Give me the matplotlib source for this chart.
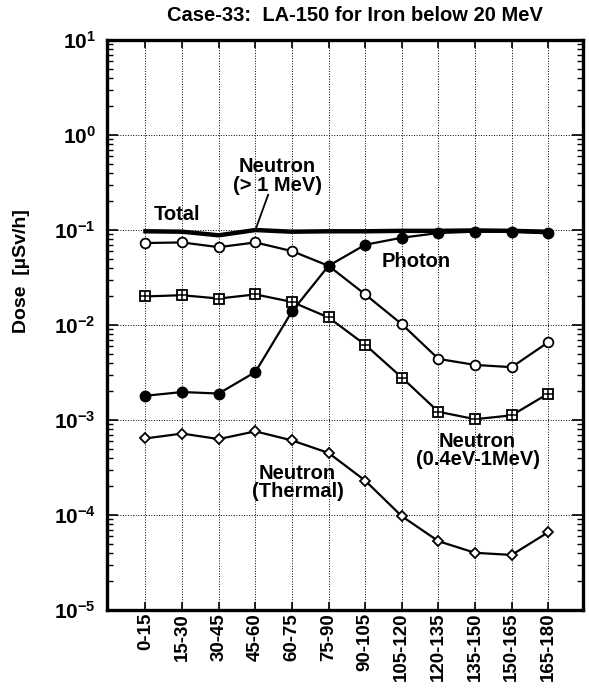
import matplotlib.pyplot as plt
import numpy as np
from matplotlib.ticker import LogLocator, NullFormatter

plt.rcParams['font.family'] = ['Liberation Sans', 'DejaVu Sans']
plt.rcParams['font.weight'] = 'bold'
plt.rcParams['mathtext.default'] = 'bf'

angles = ['0-15', '15-30', '30-45', '45-60', '60-75', '75-90', '90-105',
          '105-120', '120-135', '135-150', '150-165', '165-180']
total = [0.097, 0.096, 0.088, 0.100, 0.096, 0.097, 0.097, 0.098, 0.098,
         0.099, 0.098, 0.096]
neutron_fast = [0.073, 0.074, 0.066, 0.074, 0.060, 0.042, 0.021, 0.0102,
                0.0044, 0.0038, 0.0036, 0.0066]
neutron_mid = [0.020, 0.0206, 0.019, 0.021, 0.0175, 0.012, 0.0062, 0.0028,
               0.00122, 0.00102, 0.00112, 0.0019]
photon = [0.0018, 0.00197, 0.0019, 0.0032, 0.0139, 0.042, 0.070, 0.083,
          0.093, 0.096, 0.096, 0.092]
neutron_thermal = [0.00064, 0.00072, 0.00063, 0.00076, 0.00061, 0.00045,
                   0.00023, 0.000097, 0.000053, 0.000040, 0.000038, 0.000066]

x = np.arange(len(angles))

fig = plt.figure(figsize=(5.89, 6.95), dpi=100)
ax = fig.add_axes([0.1817, 0.1223, 0.8083, 0.8201])

line_kw = dict(color='black', lw=1.6)
ax.plot(x, total, color='black', lw=3.2, zorder=3)
ax.plot(x, neutron_fast, marker='o', ms=7, mfc='white', mec='black', mew=1.3, **line_kw, zorder=4)
ax.plot(x, neutron_mid, marker='s', ms=7, mfc='white', mec='black', mew=1.3, **line_kw, zorder=4)
ax.plot(x, neutron_mid, ls='none', marker='+', ms=7, mec='black', mew=1.1, zorder=5)
ax.plot(x, photon, marker='o', ms=7.5, mfc='black', mec='black', **line_kw, zorder=6)
ax.plot(x, neutron_thermal, marker='D', ms=5.5, mfc='white', mec='black', mew=1.3, **line_kw, zorder=4)

ax.set_yscale('log')
ax.set_ylim(1e-5, 10)
ax.set_xlim(-1.05, 11.95)
ax.set_xticks(x)
ax.set_xticklabels(angles, rotation=90, fontsize=13.5, fontweight='bold')
ax.yaxis.set_major_locator(LogLocator(base=10, numticks=10))
ax.yaxis.set_minor_locator(LogLocator(base=10, subs=np.arange(2, 10), numticks=10))
ax.yaxis.set_minor_formatter(NullFormatter())
ax.tick_params(axis='both', which='both', direction='in', top=True, right=True)
ax.tick_params(axis='y', which='major', length=8, width=1.2, labelsize=15, pad=8)
ax.tick_params(axis='y', which='minor', length=4, width=1.0)
ax.tick_params(axis='x', which='major', length=6, width=1.2, pad=2)
for s in ax.spines.values():
    s.set_linewidth(2.4)
ax.grid(True, which='major', ls=':', color='black', lw=0.7)

fig.text(21 / 589, 1 - 271 / 695, 'Dose  [µSv/h]', rotation=90, fontsize=14,
         fontweight='bold', ha='center', va='center')
fig.text(0.603, 0.978, 'Case-33:  LA-150 for Iron below 20 MeV', ha='center',
         va='center', fontsize=14.5, fontweight='bold')

txt = dict(fontsize=14.5, fontweight='bold', ha='center', va='center', linespacing=0.95)
ax.text(0.87, 0.145, 'Total', **txt)
ax.text(3.6, 0.37, 'Neutron\n(> 1 MeV)', **txt)
ax.plot([3.35, 3.0], [0.235, 0.1], color='black', lw=1.3)
ax.text(7.4, 0.047, 'Photon', **txt)
ax.text(9.07, 0.00048, 'Neutron\n(0.4eV-1MeV)', **txt)
ax.text(4.15, 0.00022, 'Neutron\n(Thermal)', **txt)

fig.savefig('out.png', dpi=100)
